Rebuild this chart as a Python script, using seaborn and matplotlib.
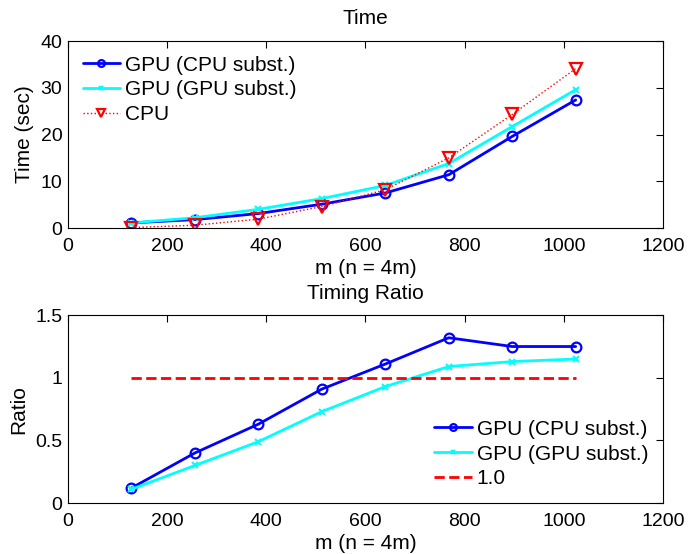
import numpy as np
import pandas as pd
import matplotlib
matplotlib.use('Agg')
import matplotlib.pyplot as plt
import seaborn as sns

# ── Data ──────────────────────────────────────────────────────────────────────
m_vals        = [128, 256, 384, 512, 640, 768, 896, 1024]
time_gpu_cpu  = [1.1, 1.8, 3.1, 5.1, 7.5, 11.4, 19.6, 27.4]
time_gpu_gpu  = [1.1, 2.2, 4.0, 6.3, 9.1, 13.8, 21.7, 29.6]
time_cpu      = [0.1, 0.6, 1.9, 4.6, 8.2, 15.0, 24.3, 34.1]
ratio_gpu_cpu = [0.12, 0.40, 0.63, 0.91, 1.11, 1.32, 1.25, 1.25]
ratio_gpu_gpu = [0.11, 0.30, 0.49, 0.73, 0.93, 1.09, 1.13, 1.15]
ref_level     = [1.0] * len(m_vals)

LBL_CPU_SUB = 'GPU (CPU subst.)'
LBL_GPU_SUB = 'GPU (GPU subst.)'

# ── Style ─────────────────────────────────────────────────────────────────────
sns.set_style('white')
plt.rcParams['font.family'] = ['Liberation Sans', 'DejaVu Sans']
plt.rcParams['font.size'] = 15
plt.rcParams['text.color'] = 'black'
plt.rcParams['axes.labelcolor'] = 'black'
plt.rcParams['xtick.direction'] = 'in'
plt.rcParams['ytick.direction'] = 'in'

df = pd.DataFrame({'m': m_vals, 'g_cpu': time_gpu_cpu, 'g_gpu': time_gpu_gpu,
                   'cpu': time_cpu, 'r_cpu': ratio_gpu_cpu,
                   'r_gpu': ratio_gpu_gpu, 'one': ref_level})

fig = plt.figure(figsize=(6.91, 5.54), dpi=100)
ax1 = fig.add_axes([0.0984, 0.5884, 0.861, 0.3375])
ax2 = fig.add_axes([0.0984, 0.092, 0.861, 0.339])

blue, cyan, red = '#0000ff', '#00ffff', '#ff0000'
leg_kw = dict(frameon=False, fontsize=15, handlelength=1.8, markerscale=0.7,
              borderaxespad=0.3, labelspacing=0.28, handletextpad=0.25,
              labelcolor='black')

# ── Top: Time ────────────────────────────────────────────────────────────────
sns.lineplot(data=df, x='m', y='g_cpu', ax=ax1, color=blue, lw=2, marker='o',
             ms=7, mfc='none', mec=blue, mew=1.6, label=LBL_CPU_SUB)
sns.lineplot(data=df, x='m', y='g_gpu', ax=ax1, color=cyan, lw=2, marker='x',
             ms=5, mec=cyan, mew=1.5, label=LBL_GPU_SUB)
sns.lineplot(data=df, x='m', y='cpu', ax=ax1, color=red, lw=1, ls=':',
             marker='v', ms=8, mfc='none', mec=red, mew=1.6, label='CPU')
ax1.set_xlim(0, 1200); ax1.set_ylim(0, 40)
ax1.set_xticks(range(0, 1201, 200)); ax1.set_yticks(range(0, 41, 10))
ax1.set_title('Time', fontsize=15, pad=12, color='black')
ax1.set_xlabel('m (n = 4m)', labelpad=3); ax1.set_ylabel('Time (sec)', labelpad=5)
ax1.legend(loc='upper left', **leg_kw)

# ── Bottom: Ratio ────────────────────────────────────────────────────────────
sns.lineplot(data=df, x='m', y='r_cpu', ax=ax2, color=blue, lw=2, marker='o',
             ms=7, mfc='none', mec=blue, mew=1.6, label=LBL_CPU_SUB)
sns.lineplot(data=df, x='m', y='r_gpu', ax=ax2, color=cyan, lw=2, marker='x',
             ms=5, mec=cyan, mew=1.5, label=LBL_GPU_SUB)
sns.lineplot(data=df, x='m', y='one', ax=ax2, color=red, lw=2, ls='--',
             label='1.0')
ax2.set_xlim(0, 1200); ax2.set_ylim(0, 1.5)
ax2.set_xticks(range(0, 1201, 200)); ax2.set_yticks([0, 0.5, 1, 1.5])
ax2.set_yticklabels(['0', '0.5', '1', '1.5'])
ax2.set_title('Timing Ratio', fontsize=15, pad=12, color='black')
ax2.set_xlabel('m (n = 4m)', labelpad=3); ax2.set_ylabel('Ratio', labelpad=5)
ax2.legend(loc='lower right', **leg_kw)

for ax in (ax1, ax2):
    for s in ax.spines.values():
        s.set_color('black'); s.set_linewidth(0.8)
    ax.tick_params(top=True, right=True, length=5, width=0.8, colors='black',
                   labelsize=14)
    ax.tick_params(axis='x', pad=7)
    ax.tick_params(axis='y', pad=4)

fig.savefig('out.png', dpi=100)
